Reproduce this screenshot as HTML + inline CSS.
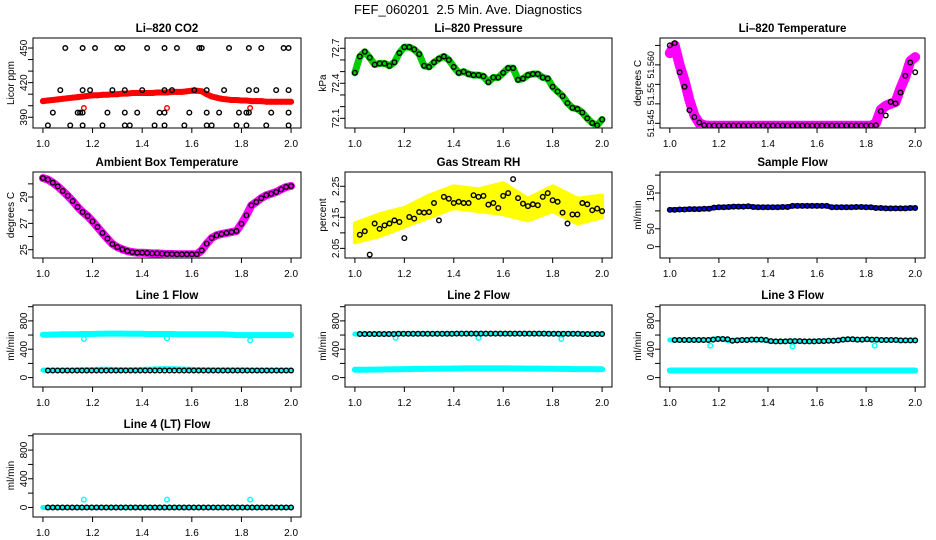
<!DOCTYPE html>
<html><head><meta charset="utf-8"><style>
html,body{margin:0;padding:0;background:#fff;}
svg{display:block;font-family:"Liberation Sans",Arial,sans-serif;}
</style></head><body>
<svg id="chart" width="936" height="540" viewBox="0 0 936 540" xmlns="http://www.w3.org/2000/svg">
<rect x="0" y="0" width="936" height="540" fill="#fff"/>
<text x="468" y="14" text-anchor="middle" font-size="13" xml:space="preserve">FEF_060201  2.5 Min. Ave. Diagnostics</text>
</svg>
<script>
// ---------- data ----------
const xTicks = [1.0, 1.2, 1.4, 1.6, 1.8, 2.0];
const xTickLabels = ["1.0", "1.2", "1.4", "1.6", "1.8", "2.0"];

const co2Red = [404,404.5,405,405.5,406,406.5,407,407.5,408,408.5,
409,409,409.5,409.5,410,410,410.5,410.5,411,411,
411,411,411,411.5,411.5,411.5,412,412,412,412.5,
413,413,412.5,410,408,407,406,405.5,405,405,
404.5,404.5,404,404,404,403.5,403.5,403.5,403.5,403.5,403.5];
const co2BlackX = [1.09,1.16,1.21,1.30,1.32,1.42,1.49,1.54,1.63,1.64,1.75,1.83,1.88,1.97,1.99,
1.07,1.16,1.19,1.28,1.33,1.40,1.49,1.52,1.61,1.66,1.73,1.83,1.86,1.94,1.99,
1.04,1.14,1.15,1.16,1.26,1.33,1.38,1.47,1.49,1.59,1.66,1.71,1.79,1.82,1.83,1.92,1.99,
1.02,1.11,1.16,1.24,1.33,1.35,1.45,1.49,1.57,1.66,1.68,1.78,1.82,1.90,1.99];
const co2BlackY = [450,450,450,450,450,450,450,450,450,450,450,450,450,450,450,
413.5,413.5,413.5,413.5,413.5,413.5,413.5,413.5,413.5,413.5,413.5,413.5,413.5,413.5,413.5,
394,394,394,394,394,394,394,394,394,394,394,394,394,394,394,394,394,
383,383,383,383,383,383,383,383,383,383,383,383,383,383,383];
const co2OutX = [1.165, 1.5, 1.835];
const co2OutY = [398, 398, 398];

const pressure = [72.49,72.63,72.67,72.62,72.56,72.57,72.57,72.55,72.58,72.66,
72.71,72.71,72.69,72.65,72.55,72.54,72.58,72.61,72.63,72.60,
72.54,72.49,72.50,72.48,72.47,72.47,72.46,72.41,72.45,72.45,
72.49,72.53,72.53,72.43,72.44,72.47,72.48,72.48,72.45,72.44,
72.37,72.33,72.29,72.23,72.19,72.18,72.15,72.10,72.06,72.04,72.09];

const tempBlack = [51.5650,51.5656,51.5581,51.5544,51.5484,51.5466,51.5452,51.5445,
51.5444,51.5444,51.5444,51.5444,51.5444,51.5444,51.5444,51.5444,51.5444,51.5444,
51.5444,51.5444,51.5444,51.5444,51.5444,51.5444,51.5444,51.5444,51.5444,51.5444,
51.5444,51.5444,51.5444,51.5444,51.5444,51.5444,51.5444,51.5444,51.5444,51.5444,
51.5444,51.5444,51.5444,51.5444,
51.5445,51.5481,51.5470,51.5505,51.5501,51.5529,51.5572,51.5606,51.5581];
const tempMagenta = [51.5630,51.5650,51.5600,51.5560,51.5510,51.5470,51.5450,51.5445,
51.5444,51.5444,51.5444,51.5444,51.5444,51.5444,51.5444,51.5444,51.5444,51.5444,
51.5444,51.5444,51.5444,51.5444,51.5444,51.5444,51.5444,51.5444,51.5444,51.5444,
51.5444,51.5444,51.5444,51.5444,51.5444,51.5444,51.5444,51.5444,51.5444,51.5444,
51.5444,51.5444,51.5444,51.5444,
51.5450,51.5485,51.5495,51.5500,51.5505,51.5540,51.5570,51.5610,51.5620];

const ambient = [30.44,30.32,30.09,29.81,29.46,29.10,28.70,28.24,27.86,27.56,
27.15,26.72,26.27,25.84,25.43,25.20,25.03,24.90,24.82,24.77,
24.77,24.75,24.72,24.72,24.70,24.67,24.67,24.65,24.65,24.65,
24.65,24.65,24.95,25.46,25.89,26.09,26.19,26.27,26.34,26.42,
26.97,27.61,28.37,28.62,28.92,29.13,29.25,29.38,29.58,29.76,29.84];

const rhBlack = [2.094,2.105,2.03,2.13,2.113,2.124,2.13,2.14,2.135,2.083,
2.151,2.146,2.167,2.165,2.167,2.196,2.14,2.216,2.21,2.196,
2.2,2.196,2.196,2.221,2.216,2.219,2.191,2.196,2.18,2.219,
2.228,2.273,2.212,2.194,2.186,2.192,2.189,2.216,2.228,2.205,
2.2,2.165,2.13,2.159,2.159,2.196,2.192,2.173,2.178,2.17];
const rhYellowLo = [2.07,2.09,2.12,2.15,2.18,2.17,2.16,2.14,2.17,2.13,2.15];
const rhYellowHi = [2.13,2.16,2.18,2.22,2.25,2.24,2.26,2.21,2.25,2.21,2.22];

const sampleFlow = [103,103,104,104,105,105,105,106,106,109,
110,110,111,112,112,112,113,111,110,110,
110,110,110,111,111,114,114,114,114,114,
114,114,114,110,110,110,110,110,111,111,
110,110,108,108,107,107,107,107,107,108,108];

const line1Black = [100,100,100,100,100,100,100,100,100,100,100,100,100,100,100,100,100,100,100,100,
100,100,100,100,100,100,100,100,100,100,100,100,100,100,100,100,100,100,100,100,
100,100,100,100,100,100,100,100,100,100,100];
const line1CyanHi = [605,605,608,608,610,610,612,612,615,615,
615,618,618,620,620,620,620,618,618,618,
618,615,615,615,615,615,615,612,612,612,
612,612,610,610,610,610,610,608,605,600,
600,600,600,600,600,600,600,600,600,600,600];
const line1CyanLo = [105,105,105,105,105,105,105,108,110,112,112,115,118,118,115,112,110,110,110,112,
115,118,120,122,125,125,125,122,120,118,115,112,110,110,108,108,108,108,108,108,
108,108,106,106,106,106,106,105,105,105,105];
const line1OutX = [1.165, 1.5, 1.835];
const line1OutY = [545, 555, 525];

const line2Black = [615,615,615,615,615,615,615,615,618,618,618,618,618,618,618,618,618,618,618,618,
620,620,620,620,620,620,620,620,620,620,620,620,620,620,620,620,620,620,620,618,
618,618,618,618,618,618,615,615,615,615,615];
const line2CyanHi = [615,615,615,615,615,615,615,615,618,618,618,618,618,618,618,618,618,618,618,618,
620,620,620,620,620,620,620,620,620,620,620,620,620,620,620,620,620,620,620,618,
618,618,618,618,618,618,615,615,615,615,615];
const line2CyanLo = [110,110,110,112,112,114,115,116,118,118,120,120,122,122,122,124,124,125,126,126,
128,128,130,130,130,130,130,130,130,130,130,130,128,128,128,126,126,126,124,124,
124,122,122,122,120,120,120,120,120,118,118];
const line2OutX = [1.165, 1.5, 1.835];
const line2OutY = [560, 560, 545];

const line3Black = [530,530,530,530,530,530,530,530,535,545,
545,540,520,525,530,530,535,535,535,530,
515,510,510,510,515,515,515,510,510,510,
515,515,520,520,525,535,540,540,535,535,
540,535,535,530,530,530,530,525,525,525,525];
const line3CyanLo = [100,100,100,100,100,100,100,100,100,100,100,100,100,100,100,100,100,100,100,100,
100,100,100,100,100,100,100,100,100,100,100,100,100,100,100,100,100,100,100,100,
100,100,100,100,100,100,100,100,100,100,100];
const line3OutX = [1.165, 1.5, 1.835];
const line3OutY = [450, 440, 450];

const line4Black = [0,0,0,0,0,0,0,0,0,0,0,0,0,0,0,0,0,0,0,0,0,0,0,0,0,0,
0,0,0,0,0,0,0,0,0,0,0,0,0,0,0,0,0,0,0,0,0,0,0,0,0];
const line4OutX = [1.165, 1.5, 1.835];
const line4OutY = [110, 110, 110];

// ---------- layout ----------
const svg = document.getElementById('chart');
const NS = 'http://www.w3.org/2000/svg';
const cols = [{l:33,r:301},{l:345,r:612},{l:660,r:925}];
const rows = [{t:38,b:128},{t:172,b:258},{t:305,b:387},{t:434,b:517}];
const XLIM = [0.96, 2.04];

function mk(tag, attrs, parent) {
  const el = document.createElementNS(NS, tag);
  for (const k in attrs) el.setAttribute(k, attrs[k]);
  (parent || svg).appendChild(el);
  return el;
}

function panel(ci, ri, name, title, ylab, ylim, yTicks, yLabels, labelPos, labelSize) {
  const c = cols[ci], r = rows[ri];
  const g = mk('g', {});
  
  
  const sx = v => c.l + (v - XLIM[0]) / (XLIM[1] - XLIM[0]) * (c.r - c.l);
  const sy = v => r.b - (v - ylim[0]) / (ylim[1] - ylim[0]) * (r.b - r.t);
  const box = mk('rect', {x:c.l, y:r.t, width:c.r-c.l, height:r.b-r.t, fill:'none', stroke:'#000', 'stroke-width':1}, g);
  
  
  const t = mk('text', {x:(c.l+c.r)/2, y:r.t-6, 'text-anchor':'middle', 'font-size':11.5, 'font-weight':'bold'}, g);
  t.textContent = title;
  
  
  const yl = mk('text', {transform:`translate(${c.l-19},${(r.t+r.b)/2}) rotate(-90)`, 'text-anchor':'middle', 'font-size':10}, g);
  yl.textContent = ylab;
  
  
  mk('line', {x1:sx(xTicks[0]), x2:sx(xTicks[xTicks.length-1]), y1:r.b, y2:r.b, stroke:'#000'}, g);
  xTicks.forEach((v, i) => {
    mk('line', {x1:sx(v), x2:sx(v), y1:r.b, y2:r.b+5, stroke:'#000'}, g);
    const tl = mk('text', {x:sx(v), y:r.b+19, 'text-anchor':'middle', 'font-size':10}, g);
    tl.textContent = xTickLabels[i];
    
    
  });
  mk('line', {x1:c.l, x2:c.l, y1:sy(yTicks[0]), y2:sy(yTicks[yTicks.length-1]), stroke:'#000'}, g);
  yTicks.forEach((v) => {
    mk('line', {x1:c.l-5, x2:c.l, y1:sy(v), y2:sy(v), stroke:'#000'}, g);
  });
  const lp = labelPos || yTicks;
  yLabels.forEach((lab, i) => {
    if (!lab) return;
    const tl = mk('text', {transform:`translate(${c.l-6},${sy(lp[i])}) rotate(-90)`, 'text-anchor':'middle', 'font-size':labelSize || 10}, g);
    tl.textContent = lab;
    
    
  });
  const clip = 'clip' + ci + ri;
  const cp = mk('clipPath', {id:clip}, g);
  mk('rect', {x:c.l, y:r.t, width:c.r-c.l, height:r.b-r.t}, cp);
  const pg = mk('g', {'clip-path':`url(#${clip})`}, g);
  return {sx, sy, g:pg};
}

function xsFor(arr, x0, x1) {
  return arr.map((v, i) => x0 + (x1 - x0) * i / (arr.length - 1));
}

function band(p, vals, x0, x1, color, w, name) {
  const xs = xsFor(vals, x0, x1);
  const pts = vals.map((v, i) => p.sx(xs[i]).toFixed(1) + ',' + p.sy(v).toFixed(1)).join(' ');
  const pl = mk('polyline', {points:pts, fill:'none', stroke:color, 'stroke-width':w, 'stroke-linejoin':'round', 'stroke-linecap':'round'}, p.g);
  
  
}

function pts(p, xs, ys, color, name) {
  ys.forEach((v, i) => {
    const c = mk('circle', {cx:p.sx(xs[i]), cy:p.sy(v), r:2.3, fill:'none', stroke:color, 'stroke-width':1.4}, p.g);
    
    
  });
}
function series(p, vals, x0, x1, color, name) {
  pts(p, xsFor(vals, x0, x1), vals, color, name);
}

// Li-820 CO2
let p = panel(0, 0, 'co2', 'Li\u2013820 CO2', 'Licor ppm', [380.7, 458.7], [390,400,410,420,430,440,450], ['390','','','420','','','450']);
band(p, co2Red, 1.0, 2.0, '#ff0000', 6, 'co2-red-band');
series(p, co2Red, 1.0, 2.0, '#ff0000', 'co2-red-point');
pts(p, co2OutX, co2OutY, '#ff0000', 'co2-red-outlier');
pts(p, co2BlackX, co2BlackY, '#000', 'co2-black-point');

// Pressure
p = panel(1, 0, 'pressure', 'Li\u2013820 Pressure', 'kPa', [72.017, 72.788], [72.1,72.2,72.3,72.4,72.5,72.6,72.7], ['72.1','','','72.4','','','72.7']);
band(p, pressure, 1.0, 2.0, '#00cc00', 7, 'pressure-green-band');
series(p, pressure, 1.0, 2.0, '#000', 'pressure-black-point');

// Temperature
p = panel(2, 0, 'li820-temp', 'Li\u2013820 Temperature', 'degrees C', [51.5438, 51.5669], [51.545,51.550,51.555,51.560,51.565], ['51.545','51.55','51.560'], [51.545, 51.5525, 51.560], 9);
band(p, tempMagenta, 1.0, 2.0, '#ff00ff', 10, 'temp-magenta-band');
series(p, tempMagenta, 1.0, 2.0, '#ff00ff', 'temp-magenta-point');
series(p, tempBlack, 1.0, 2.0, '#000', 'temp-black-point');

// Ambient Box Temperature
p = panel(0, 1, 'ambient-temp', 'Ambient Box Temperature', 'degrees C', [24.37, 30.90], [25,26,27,28,29,30], ['25','','27','','29','']);
band(p, ambient, 1.0, 2.0, '#ff00ff', 8, 'ambient-magenta-band');
series(p, ambient, 1.0, 2.0, '#000', 'ambient-black-point');

// Gas Stream RH
p = panel(1, 1, 'gas-rh', 'Gas Stream RH', 'percent', [2.019, 2.296], [2.05,2.10,2.15,2.20,2.25], ['2.05','','2.15','','2.25']);
{
  const xs = xsFor(rhYellowLo, 1.0, 2.0);
  const up = rhYellowHi.map((v, i) => p.sx(xs[i]).toFixed(1) + ',' + p.sy(v).toFixed(1));
  const dn = rhYellowLo.map((v, i) => p.sx(xs[i]).toFixed(1) + ',' + p.sy(v).toFixed(1)).reverse();
  const poly = mk('polygon', {points:up.concat(dn).join(' '), fill:'#ffff00', stroke:'#ffff00', 'stroke-width':4, 'stroke-linejoin':'round'}, p.g);
  
  
}
series(p, rhBlack, 1.02, 2.0, '#000', 'rh-black-point');

// Sample Flow
p = panel(2, 1, 'sample-flow', 'Sample Flow', 'ml/min', [-31.7, 208.7], [0,50,100,150,200], ['0','50','','150','']);
band(p, sampleFlow, 1.0, 2.0, '#0000ff', 5, 'sample-flow-blue-band');
series(p, sampleFlow, 1.0, 2.0, '#000', 'sample-flow-black-point');

const flowTicks = [0,200,400,600,800,1000];
const flowLabels = ['0','','400','','800',''];
const CY = '#00ffff';

// Line 1 Flow
p = panel(0, 2, 'line1-flow', 'Line 1 Flow', 'ml/min', [-133, 1024], flowTicks, flowLabels);
band(p, line1CyanHi, 1.0, 2.0, CY, 6, 'line1-cyan-high-band');
band(p, line1CyanLo, 1.0, 2.0, CY, 5, 'line1-cyan-low-band');
pts(p, line1OutX, line1OutY, CY, 'line1-cyan-outlier');
series(p, line1Black, 1.02, 2.0, '#000', 'line1-black-point');

// Line 2 Flow
p = panel(1, 2, 'line2-flow', 'Line 2 Flow', 'ml/min', [-133, 1024], flowTicks, flowLabels);
band(p, line2CyanHi, 1.0, 2.0, CY, 5, 'line2-cyan-high-band');
band(p, line2CyanLo, 1.0, 2.0, CY, 6, 'line2-cyan-low-band');
pts(p, line2OutX, line2OutY, CY, 'line2-cyan-outlier');
series(p, line2Black, 1.02, 2.0, '#000', 'line2-black-point');

// Line 3 Flow
p = panel(2, 2, 'line3-flow', 'Line 3 Flow', 'ml/min', [-133, 1024], flowTicks, flowLabels);
band(p, line3Black, 1.0, 2.0, CY, 5, 'line3-cyan-high-band');
band(p, line3CyanLo, 1.0, 2.0, CY, 6, 'line3-cyan-low-band');
pts(p, line3OutX, line3OutY, CY, 'line3-cyan-outlier');
series(p, line3Black, 1.02, 2.0, '#000', 'line3-black-point');

// Line 4 Flow
p = panel(0, 3, 'line4-flow', 'Line 4 (LT) Flow', 'ml/min', [-133, 1024], flowTicks, flowLabels);
band(p, line4Black, 1.0, 2.0, CY, 5, 'line4-cyan-band');
pts(p, line4OutX, line4OutY, CY, 'line4-cyan-outlier');
series(p, line4Black, 1.02, 2.0, '#000', 'line4-black-point');
</script>
</body></html>
